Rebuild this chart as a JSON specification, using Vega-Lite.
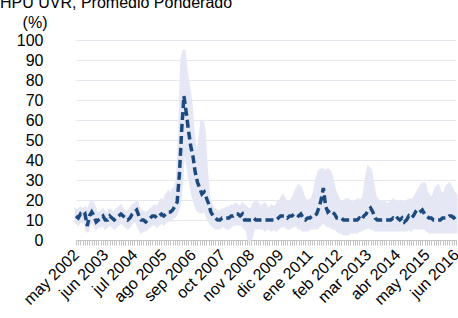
{
"$schema": "https://vega.github.io/schema/vega-lite/v6.json",
"width": 380, "height": 200,
"autosize": {"type": "none"},
"padding": {"left": 76, "top": 40, "right": 2, "bottom": 78},
"background": "white",
"title": {"text": "HPU UVR, Promedio Ponderado", "anchor": "start", "frame": "group", "dx": -76, "dy": 18, "offset": 8, "baseline": "alphabetic", "fontSize": 16, "fontWeight": "normal", "font": "Liberation Sans", "color": "#000"},
"config": {"view": {"stroke": null}, "font": "Liberation Sans"},
"data": {"values": [
{"d":"2002-05","v":12,"lo":9,"hi":15},{"d":"2002-06","v":11,"lo":8,"hi":14},{"d":"2002-07","v":13,"lo":10,"hi":16},{"d":"2002-08","v":12,"lo":9,"hi":15},{"d":"2002-09","v":13,"lo":9,"hi":16},{"d":"2002-10","v":7,"lo":4,"hi":13},{"d":"2002-11","v":12,"lo":8,"hi":17},{"d":"2002-12","v":14,"lo":10,"hi":19},
{"d":"2003-01","v":12,"lo":8,"hi":17},{"d":"2003-02","v":9,"lo":6,"hi":14},{"d":"2003-03","v":10,"lo":7,"hi":13},{"d":"2003-04","v":11,"lo":7,"hi":14},{"d":"2003-05","v":12,"lo":9,"hi":15},{"d":"2003-06","v":10,"lo":6,"hi":13},{"d":"2003-07","v":10,"lo":7,"hi":13},{"d":"2003-08","v":12,"lo":8,"hi":15},{"d":"2003-09","v":11,"lo":7,"hi":14},{"d":"2003-10","v":10,"lo":6,"hi":13},{"d":"2003-11","v":11,"lo":7,"hi":15},{"d":"2003-12","v":12,"lo":8,"hi":16},
{"d":"2004-01","v":13,"lo":9,"hi":17},{"d":"2004-02","v":12,"lo":8,"hi":15},{"d":"2004-03","v":11,"lo":7,"hi":14},{"d":"2004-04","v":10,"lo":6,"hi":14},{"d":"2004-05","v":11,"lo":7,"hi":15},{"d":"2004-06","v":13,"lo":9,"hi":17},{"d":"2004-07","v":14,"lo":10,"hi":18},{"d":"2004-08","v":15,"lo":9,"hi":19},{"d":"2004-09","v":12,"lo":6,"hi":16},{"d":"2004-10","v":10,"lo":4,"hi":14},{"d":"2004-11","v":10,"lo":5,"hi":14},{"d":"2004-12","v":9,"lo":5,"hi":13},
{"d":"2005-01","v":10,"lo":6,"hi":14},{"d":"2005-02","v":11,"lo":7,"hi":15},{"d":"2005-03","v":12,"lo":8,"hi":16},{"d":"2005-04","v":12,"lo":8,"hi":17},{"d":"2005-05","v":11,"lo":7,"hi":16},{"d":"2005-06","v":12,"lo":8,"hi":18},{"d":"2005-07","v":13,"lo":9,"hi":20},{"d":"2005-08","v":12,"lo":8,"hi":19},{"d":"2005-09","v":13,"lo":9,"hi":22},{"d":"2005-10","v":14,"lo":10,"hi":24},{"d":"2005-11","v":14,"lo":10,"hi":22},{"d":"2005-12","v":15,"lo":11,"hi":25},
{"d":"2006-01","v":17,"lo":12,"hi":26},{"d":"2006-02","v":19,"lo":14,"hi":30},{"d":"2006-03","v":33,"lo":18,"hi":50},{"d":"2006-04","v":55,"lo":28,"hi":90},{"d":"2006-05","v":72,"lo":48,"hi":95},{"d":"2006-06","v":64,"lo":42,"hi":85},{"d":"2006-07","v":55,"lo":35,"hi":77},{"d":"2006-08","v":47,"lo":28,"hi":70},{"d":"2006-09","v":42,"lo":22,"hi":55},{"d":"2006-10","v":34,"lo":18,"hi":45},{"d":"2006-11","v":29,"lo":15,"hi":42},{"d":"2006-12","v":26,"lo":14,"hi":50},
{"d":"2007-01","v":23,"lo":14,"hi":60},{"d":"2007-02","v":24,"lo":15,"hi":55},{"d":"2007-03","v":21,"lo":13,"hi":35},{"d":"2007-04","v":18,"lo":10,"hi":22},{"d":"2007-05","v":14,"lo":8,"hi":18},{"d":"2007-06","v":12,"lo":7,"hi":16},{"d":"2007-07","v":11,"lo":6,"hi":15},{"d":"2007-08","v":10,"lo":6,"hi":14},{"d":"2007-09","v":10,"lo":6,"hi":14},{"d":"2007-10","v":11,"lo":7,"hi":15},{"d":"2007-11","v":11,"lo":7,"hi":15},{"d":"2007-12","v":11,"lo":6,"hi":16},
{"d":"2008-01","v":11,"lo":6,"hi":16},{"d":"2008-02","v":12,"lo":7,"hi":17},{"d":"2008-03","v":12,"lo":8,"hi":17},{"d":"2008-04","v":13,"lo":8,"hi":18},{"d":"2008-05","v":13,"lo":8,"hi":17},{"d":"2008-06","v":12,"lo":8,"hi":16},{"d":"2008-07","v":13,"lo":8,"hi":18},{"d":"2008-08","v":10,"lo":6,"hi":17},{"d":"2008-09","v":10,"lo":5,"hi":16},{"d":"2008-10","v":10,"lo":0,"hi":15},{"d":"2008-11","v":10,"lo":1,"hi":15},{"d":"2008-12","v":11,"lo":6,"hi":18},
{"d":"2009-01","v":10,"lo":6,"hi":19},{"d":"2009-02","v":10,"lo":6,"hi":18},{"d":"2009-03","v":10,"lo":6,"hi":16},{"d":"2009-04","v":10,"lo":6,"hi":17},{"d":"2009-05","v":10,"lo":5,"hi":18},{"d":"2009-06","v":10,"lo":6,"hi":16},{"d":"2009-07","v":10,"lo":6,"hi":15},{"d":"2009-08","v":10,"lo":5,"hi":17},{"d":"2009-09","v":10,"lo":6,"hi":16},{"d":"2009-10","v":10,"lo":5,"hi":17},{"d":"2009-11","v":11,"lo":6,"hi":19},{"d":"2009-12","v":12,"lo":7,"hi":20},
{"d":"2010-01","v":12,"lo":7,"hi":22},{"d":"2010-02","v":12,"lo":7,"hi":20},{"d":"2010-03","v":11,"lo":6,"hi":19},{"d":"2010-04","v":12,"lo":6,"hi":18},{"d":"2010-05","v":12,"lo":7,"hi":20},{"d":"2010-06","v":13,"lo":7,"hi":22},{"d":"2010-07","v":13,"lo":8,"hi":25},{"d":"2010-08","v":12,"lo":6,"hi":27},{"d":"2010-09","v":13,"lo":6,"hi":26},{"d":"2010-10","v":11,"lo":5,"hi":22},{"d":"2010-11","v":10,"lo":5,"hi":20},{"d":"2010-12","v":11,"lo":5,"hi":19},
{"d":"2011-01","v":11,"lo":6,"hi":20},{"d":"2011-02","v":12,"lo":6,"hi":20},{"d":"2011-03","v":12,"lo":6,"hi":24},{"d":"2011-04","v":13,"lo":6,"hi":30},{"d":"2011-05","v":16,"lo":7,"hi":34},{"d":"2011-06","v":20,"lo":8,"hi":35},{"d":"2011-07","v":26,"lo":10,"hi":35},{"d":"2011-08","v":17,"lo":8,"hi":34},{"d":"2011-09","v":14,"lo":7,"hi":35},{"d":"2011-10","v":15,"lo":7,"hi":34},{"d":"2011-11","v":14,"lo":6,"hi":30},{"d":"2011-12","v":13,"lo":6,"hi":25},
{"d":"2012-01","v":11,"lo":5,"hi":22},{"d":"2012-02","v":11,"lo":4,"hi":20},{"d":"2012-03","v":11,"lo":4,"hi":19},{"d":"2012-04","v":10,"lo":3,"hi":19},{"d":"2012-05","v":10,"lo":3,"hi":20},{"d":"2012-06","v":10,"lo":3,"hi":20},{"d":"2012-07","v":10,"lo":4,"hi":19},{"d":"2012-08","v":10,"lo":4,"hi":18},{"d":"2012-09","v":10,"lo":4,"hi":19},{"d":"2012-10","v":10,"lo":4,"hi":20},{"d":"2012-11","v":11,"lo":5,"hi":20},{"d":"2012-12","v":10,"lo":5,"hi":19},
{"d":"2013-01","v":12,"lo":6,"hi":22},{"d":"2013-02","v":13,"lo":6,"hi":30},{"d":"2013-03","v":15,"lo":7,"hi":36},{"d":"2013-04","v":16,"lo":6,"hi":35},{"d":"2013-05","v":14,"lo":6,"hi":28},{"d":"2013-06","v":11,"lo":5,"hi":22},{"d":"2013-07","v":10,"lo":5,"hi":20},{"d":"2013-08","v":10,"lo":5,"hi":19},{"d":"2013-09","v":10,"lo":5,"hi":18},{"d":"2013-10","v":10,"lo":5,"hi":19},{"d":"2013-11","v":10,"lo":5,"hi":18},{"d":"2013-12","v":10,"lo":5,"hi":18},
{"d":"2014-01","v":10,"lo":5,"hi":19},{"d":"2014-02","v":11,"lo":5,"hi":20},{"d":"2014-03","v":10,"lo":5,"hi":19},{"d":"2014-04","v":11,"lo":5,"hi":18},{"d":"2014-05","v":10,"lo":5,"hi":19},{"d":"2014-06","v":11,"lo":5,"hi":19},{"d":"2014-07","v":9,"lo":5,"hi":18},{"d":"2014-08","v":10,"lo":5,"hi":19},{"d":"2014-09","v":12,"lo":6,"hi":20},{"d":"2014-10","v":11,"lo":5,"hi":20},{"d":"2014-11","v":12,"lo":6,"hi":20},{"d":"2014-12","v":14,"lo":6,"hi":22},
{"d":"2015-01","v":13,"lo":6,"hi":24},{"d":"2015-02","v":14,"lo":6,"hi":26},{"d":"2015-03","v":15,"lo":6,"hi":28},{"d":"2015-04","v":13,"lo":6,"hi":28},{"d":"2015-05","v":12,"lo":5,"hi":24},{"d":"2015-06","v":11,"lo":4,"hi":22},{"d":"2015-07","v":11,"lo":4,"hi":21},{"d":"2015-08","v":10,"lo":4,"hi":22},{"d":"2015-09","v":10,"lo":4,"hi":26},{"d":"2015-10","v":10,"lo":4,"hi":27},{"d":"2015-11","v":10,"lo":4,"hi":24},{"d":"2015-12","v":11,"lo":4,"hi":22},
{"d":"2016-01","v":11,"lo":4,"hi":24},{"d":"2016-02","v":11,"lo":4,"hi":27},{"d":"2016-03","v":12,"lo":4,"hi":28},{"d":"2016-04","v":12,"lo":4,"hi":26},{"d":"2016-05","v":11,"lo":4,"hi":24},{"d":"2016-06","v":12,"lo":4,"hi":22}
]},
"encoding": {
  "x": {"field": "d", "type": "ordinal", "scale": {"padding": 0}, "axis": {"title": null, "labelExpr": "(((toNumber(substring(datum.value,0,4))-2002)*12 + toNumber(substring(datum.value,5,7)) - 5) % 13 == 0) ? ['ene','feb','mar','abr','may','jun','jul','ago','sep','oct','nov','dic'][toNumber(substring(datum.value,5,7))-1] + ' ' + substring(datum.value,0,4) : ''", "labelAngle": -45, "labelAlign": "right", "labelBaseline": "middle", "labelOverlap": false, "labelFontSize": 16, "labelColor": "#000", "labelFont": "Liberation Sans", "tickColor": "#c4c4c4", "tickSize": 5, "domainColor": "#c4c4c4", "labelPadding": 7, "labelDx": -6, "grid": false, "labelBound": false}}
},
"layer": [
  {"mark": {"type": "area", "color": "#e5e8f4", "stroke": "#e5e8f4", "strokeWidth": 3},
   "encoding": {"y": {"field": "lo", "type": "quantitative", "scale": {"domain": [0, 100]}, "axis": {"title": "(%)", "values": [0,10,20,30,40,50,60,70,80,90,100], "titleAngle": 0, "titleAlign": "right", "titleX": -29, "titleY": -13, "titleBaseline": "alphabetic", "titleFontSize": 16, "titleFontWeight": "normal", "titleColor": "#000", "titleFont": "Liberation Sans", "labelFontSize": 16, "labelColor": "#000", "labelFont": "Liberation Sans", "ticks": false, "domain": false, "labelPadding": 33, "gridColor": "#e6e6ef"}}, "y2": {"field": "hi"}}},
  {"mark": {"type": "line", "color": "#1d4a7e", "strokeWidth": 3.5, "strokeDash": [8, 4]},
   "encoding": {"y": {"field": "v", "type": "quantitative", "axis": {"title": "(%)", "values": [0,10,20,30,40,50,60,70,80,90,100], "titleAngle": 0, "titleAlign": "right", "titleX": -29, "titleY": -13, "titleBaseline": "alphabetic", "titleFontSize": 16, "titleFontWeight": "normal", "titleColor": "#000", "titleFont": "Liberation Sans", "labelFontSize": 16, "labelColor": "#000", "labelFont": "Liberation Sans", "ticks": false, "domain": false, "labelPadding": 33, "gridColor": "#e6e6ef"}}}}
]
}
